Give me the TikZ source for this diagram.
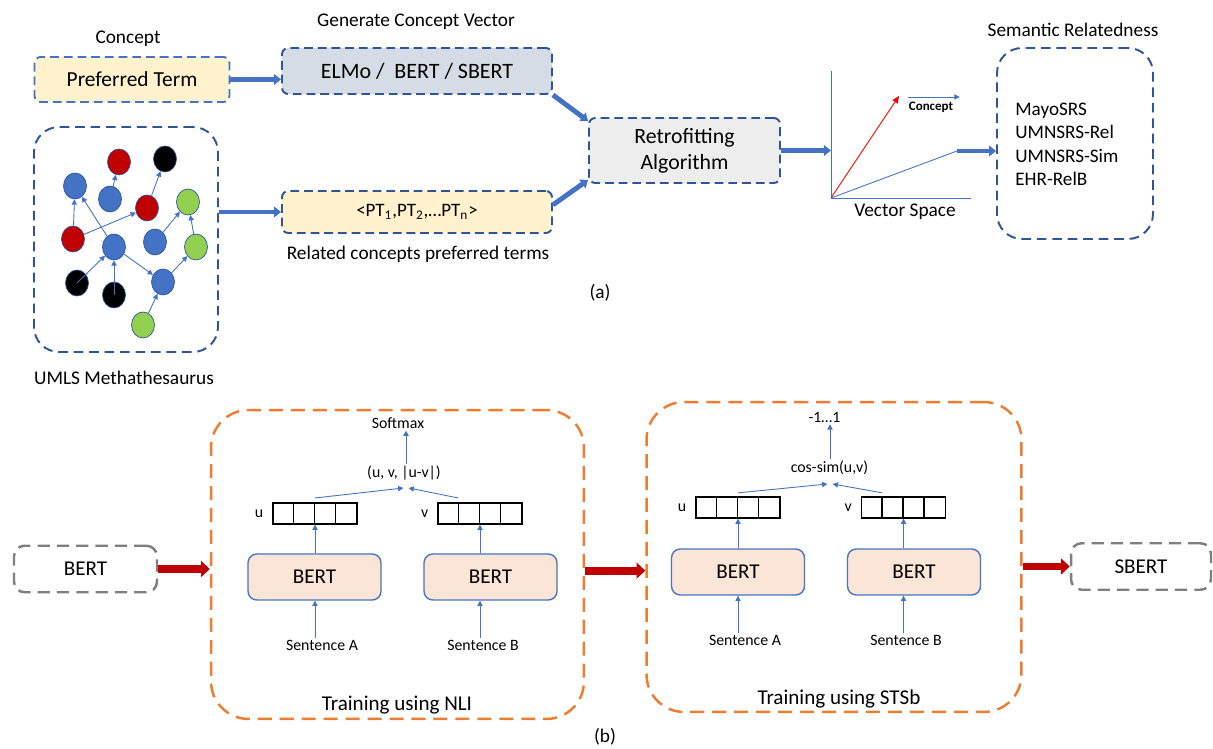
\documentclass[tikz,border=0pt]{standalone}
\usepackage{fontspec}
\setmainfont{Carlito}
\usetikzlibrary{arrows.meta,positioning,shapes.geometric}

\definecolor{boxblue}{HTML}{2F5597}
\definecolor{arrowblue}{HTML}{4472C4}
\definecolor{termyellow}{HTML}{FFF2CC}
\definecolor{modelgray}{HTML}{D6DCE5}
\definecolor{algogray}{HTML}{EDEDED}
\definecolor{nodered}{HTML}{C00000}
\definecolor{nodegreen}{HTML}{92D050}
\definecolor{trainorange}{HTML}{ED7D31}
\definecolor{bertpeach}{HTML}{FBE5D6}
\definecolor{framegray}{HTML}{7F7F7F}

\newcommand{\fsz}[2]{\fontsize{#1}{#2}\selectfont}

\begin{document}
\begin{tikzpicture}[x=0.02cm, y=-0.02cm,
    dashbox/.style={draw=boxblue, line width=1.1pt, dash pattern=on 5pt off 2.8pt,
        rounded corners=3.5pt, align=center, inner sep=0pt},
    graphframe/.style={draw=boxblue, line width=1.1pt, dash pattern=on 5.5pt off 3.3pt,
        rounded corners=0.5cm},
    trainframe/.style={draw=trainorange, line width=1.4pt, dash pattern=on 8pt off 4.5pt,
        rounded corners=0.75cm},
    grayframe/.style={draw=framegray, line width=1.4pt, dash pattern=on 7pt off 4pt,
        rounded corners=6pt, minimum width=2.86cm, minimum height=0.93cm, font=\fsz{12}{14}},
    bertbox/.style={draw=arrowblue, line width=0.8pt, fill=bertpeach, rounded corners=5pt,
        minimum width=2.66cm, minimum height=0.92cm, font=\fsz{12}{14}},
    vec/.style={draw=black, line width=0.7pt, minimum width=1.68cm, minimum height=0.42cm,
        inner sep=0pt},
    concept/.style={ellipse, draw=boxblue, line width=0.4pt, minimum width=0.46cm,
        minimum height=0.52cm, inner sep=0pt},
    lbl/.style={font=\fsz{11}{13}, inner sep=1pt},
    smalltxt/.style={font=\fsz{9}{11}, inner sep=1pt},
    bluearrow/.style={draw=arrowblue, line width=2.8pt, -{Triangle[length=4pt,width=6pt]}},
    redarrow/.style={draw=nodered, line width=4.4pt, -{Triangle[length=5pt,width=9pt]}},
    thinarrow/.style={draw=arrowblue, line width=0.5pt, -{Triangle[length=3pt,width=3pt]}},
    axisline/.style={draw=arrowblue, line width=0.5pt}]
    \useasboundingbox (0,0) rectangle (1213,749);

    % (a) concept and vector model
    \node[lbl] (cpt) at (128,39) {Concept};
    \node[dashbox, draw=arrowblue, fill=termyellow, minimum width=3.9cm, minimum height=0.9cm,
        font=\fsz{12.2}{14}] (pref) at (132,79.5) {Preferred Term};
    \node[lbl] (gen) at (416,22) {Generate Concept Vector};
    \node[dashbox, fill=modelgray, minimum width=5.4cm, minimum height=0.92cm,
        font=\fsz{12.5}{14}] (elmo) at (417,71) {ELMo / \ BERT / SBERT};

    % UMLS graph
    \node[graphframe, minimum width=3.68cm, minimum height=4.5cm] (umls) at (126,239.5) {};
    \node[lbl] (umlslbl) at (124,378) {UMLS Methathesaurus};
    \foreach \nm/\x/\y/\c in {
        b1/75/186/arrowblue, r1/119/162/nodered, k1/165/159/black,
        b2/110/199/arrowblue, r2/147/208/nodered, g1/188/202/nodegreen,
        r3/73/239/nodered, b3/114/247/arrowblue, b4/155/242/arrowblue,
        g2/196/247/nodegreen, k2/77/283/black, k3/114/295/black,
        b5/163/282/arrowblue, g3/143/325/nodegreen} {
        \node[concept, fill=\c] (\nm) at (\x,\y) {};
    }
    \foreach \a/\b in {r3/b1, b3/b1, b2/r1, r2/k1, r3/r2, b4/g1, g2/g1, b3/b5, b5/g2, g3/b5} {
        \draw[thinarrow] (\a) -- (\b);
    }
    \foreach \a in {k2, k3} {
        \draw[thinarrow] (\a.center) -- (b3);
    }

    % related terms and retrofitting
    \node[dashbox, fill=termyellow, minimum width=5.4cm, minimum height=0.84cm,
        font=\fsz{10.8}{13}] (pts) at (417,212)
        {<PT\textsubscript{1},PT\textsubscript{2},…PT\textsubscript{n}>};
    \node[lbl] (rel) at (418,254) {Related concepts preferred terms};
    \node[dashbox, fill=algogray, minimum width=3.82cm, minimum height=1.3cm,
        font=\fsz{12.4}{14.7}] (retro) at (684.5,150.5) {Retrofitting\\Algorithm};

    \draw[bluearrow] (pref.east) -- (pref.east -| elmo.west);
    \draw[bluearrow] (umls.east |- pts) -- (pts.west);
    \draw[bluearrow] (elmo.south east) -- (retro.163);
    \draw[bluearrow] (pts.3) -- (retro.197);

    % vector space
    \coordinate (origin) at (831,198);
    \coordinate (vtip) at (957,151);
    \draw[axisline] (origin) -- (831,71);
    \draw[axisline] (origin) -- (971,198);
    \draw[draw=red, line width=0.5pt, -{Triangle[length=4pt,width=3.5pt]}] (origin) -- (899,96);
    \draw[axisline] (origin) -- (vtip);
    \node[font=\bfseries\fsz{7.4}{9}, inner sep=0.5pt] (cptkey) at (931,107) {Concept};
    \draw[thinarrow] ([yshift=2pt]cptkey.north west) -- ([xshift=3pt,yshift=2pt]cptkey.north east);
    \node[lbl] (vspace) at (905,212) {Vector Space};
    \draw[bluearrow] (retro.east) -- (retro.east -| origin);

    % semantic relatedness
    \node[lbl] (semlbl) at (1073,30) {Semantic Relatedness};
    \node[graphframe, minimum width=3.12cm, minimum height=3.82cm] (sem) at (1075,143.5) {};
    \node[font=\fsz{10.9}{13.4}, align=left, anchor=west, inner sep=0pt] (semlist) at (1015,144.5)
        {MayoSRS\\UMNSRS-Rel\\UMNSRS-Sim\\EHR-RelB};
    \draw[bluearrow] (vtip) -- (vtip -| sem.west);
    \node[lbl] (acap) at (600,293) {(a)};

    % (b) training with NLI
    \node[grayframe] (bert0) at (85.5,569) {BERT};
    \node[trainframe, minimum width=7.46cm, minimum height=6.18cm] (nli) at (397.5,564.5) {};
    \node[lbl, font=\fsz{12}{14}] (nlilbl) at (397,705) {Training using NLI};
    \node[bertbox] (bertA) at (314.5,577) {BERT};
    \node[bertbox] (bertB) at (490.5,577) {BERT};
    \node[vec] (uA) at (315,513.5) {};
    \node[vec] (vA) at (480,513.5) {};
    \foreach \v in {uA, vA} {
        \foreach \i in {1,2,3} {
            \draw[line width=0.7pt] ([xshift=\i*0.42cm]\v.north west) -- ([xshift=\i*0.42cm]\v.south west);
        }
    }
    \node[smalltxt, left=4pt of uA] (uAl) {u};
    \node[smalltxt, left=4pt of vA] (vAl) {v};
    \node[smalltxt] (sentA) at (322,645) {Sentence A};
    \node[smalltxt] (sentB) at (483,645) {Sentence B};
    \node[smalltxt] (combA) at (404,473) {(u, v, |u-v|)};
    \node[smalltxt] (softmax) at (398,423) {Softmax};
    \coordinate (joinA) at (406,488);
    \draw[thinarrow] ([yshift=2.5pt]uA.north) -- ([xshift=-1.5pt]joinA);
    \draw[thinarrow] ([xshift=0.42cm,yshift=2.5pt]vA.north west) -- ([xshift=1.5pt]joinA);
    \draw[thinarrow] (combA.north -| joinA) -- (softmax.south -| joinA);
    \draw[thinarrow] (bertA.north -| uA) -- (uA.south);
    \draw[thinarrow] (bertB.north -| vA) -- (vA.south);
    \draw[thinarrow] (sentA.north -| uA) -- (bertA.south -| uA);
    \draw[thinarrow] (sentB.north -| vA) -- (bertB.south -| vA);

    % training with STSb
    \node[trainframe, minimum width=7.5cm, minimum height=6.2cm] (stsb) at (834,557) {};
    \node[lbl, font=\fsz{12}{14}] (stslbl) at (839,699) {Training using STSb};
    \node[bertbox] (bertC) at (738,572) {BERT};
    \node[bertbox] (bertD) at (914,572) {BERT};
    \node[vec] (uB) at (738,507.5) {};
    \node[vec] (vB) at (903.5,507.5) {};
    \foreach \v in {uB, vB} {
        \foreach \i in {1,2,3} {
            \draw[line width=0.7pt] ([xshift=\i*0.42cm]\v.north west) -- ([xshift=\i*0.42cm]\v.south west);
        }
    }
    \node[smalltxt, left=4pt of uB] (uBl) {u};
    \node[smalltxt, left=4pt of vB] (vBl) {v};
    \node[smalltxt] (sentC) at (745,640) {Sentence A};
    \node[smalltxt] (sentD) at (906,640) {Sentence B};
    \node[smalltxt] (cossim) at (829.5,468) {cos-sim(u,v)};
    \node[smalltxt] (range) at (824.5,417) {-1…1};
    \coordinate (joinB) at (830,484);
    \draw[thinarrow] ([yshift=2pt]uB.north) -- ([xshift=-1.5pt]joinB);
    \draw[thinarrow] ([xshift=0.43cm,yshift=2pt]vB.north west) -- ([xshift=1.5pt]joinB);
    \draw[thinarrow] (cossim.north -| joinB) -- (range.south -| joinB);
    \draw[thinarrow] (bertC.north -| uB) -- (uB.south);
    \draw[thinarrow] (bertD.north -| vB) -- (vB.south);
    \draw[thinarrow] (sentC.north -| uB) -- (bertC.south -| uB);
    \draw[thinarrow] (sentD.north -| vB) -- (bertD.south -| vB);

    % model flow
    \node[grayframe, minimum width=2.8cm] (sbert) at (1141,566.5) {SBERT};
    \draw[redarrow] (bert0.east) -- (bert0.east -| nli.west);
    \draw[redarrow] ([yshift=-3.5pt]nli.east) -- ([yshift=-3.5pt]nli.east -| stsb.west);
    \draw[redarrow] (sbert.west -| stsb.east) -- (sbert.west);
    \node[lbl] (bcap) at (605,737) {(b)};
\end{tikzpicture}
\end{document}
